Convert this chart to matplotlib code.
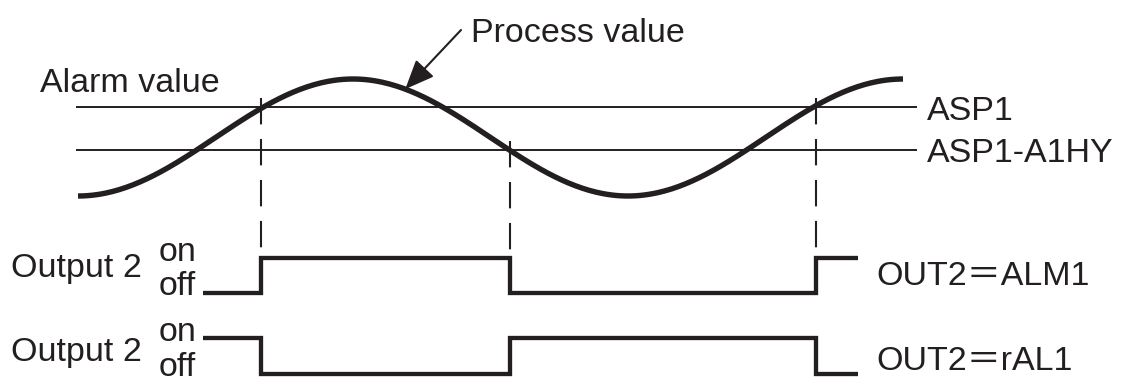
import numpy as np
import matplotlib
matplotlib.use("Agg")
import matplotlib.pyplot as plt

plt.rcParams['font.family'] = ['Liberation Sans', 'Noto Sans CJK JP', 'DejaVu Sans']
plt.rcParams['lines.scale_dashes'] = False

# Process value (one and a half periods, starting at a trough)
pv_time = np.linspace(0, 30, 361)
pv_period = 20.0
pv_amp = 1.0
asp1 = 0.52
a1hy = 0.73

# switching instants and the two output patterns
switch_times = [6.65, 15.71, 26.84]
trace_start, trace_end = 4.55, 28.36
alm1_states = [0, 1, 0, 1]
ral1_states = [1, 0, 1, 0]
arrow_time = 11.9

INK = '#231f20'
W, H = 1123, 378
FS = 24.5


def t_px(px):
    return (px - 78) / 27.5


def v_px(py):
    return (137.5 - py) / 58.5


def pv(t):
    return -pv_amp * np.cos(2 * np.pi * np.asarray(t) / pv_period)


fig = plt.figure(figsize=(W / 100, H / 100), dpi=100)
ax = fig.add_axes([0, 0, 1, 1])
ax.set_xlim(t_px(0), t_px(W))
ax.set_ylim(v_px(H), v_px(0))
ax.axis('off')

# threshold lines
ax.hlines([asp1, asp1 - a1hy], t_px(76), t_px(917), color=INK, lw=1.4)

# process value curve
ax.plot(pv_time, pv(pv_time), color=INK, lw=3.9, solid_capstyle='butt')

# dashed markers at the switching points
thr = [asp1, asp1 - a1hy, asp1]
for t, th in zip(switch_times, thr):
    ax.plot([t, t], [th + 9 / 58.5, v_px(250)], color=INK, lw=1.5,
            linestyle=(0, (19, 10.5)))

ax.annotate('', xy=(arrow_time, pv(arrow_time)), xytext=(t_px(461), v_px(30)),
            arrowprops=dict(arrowstyle='-|>,head_length=0.9,head_width=0.38',
                            mutation_scale=20, color=INK, lw=1.5,
                            shrinkA=0, shrinkB=0))


def trace_axes(off_py, on_py):
    a = fig.add_axes([0, 0, 1, 1])
    a.patch.set_alpha(0)
    step = off_py - on_py
    a.set_xlim(t_px(0), t_px(W))
    a.set_ylim(-(H - off_py) / step, off_py / step)
    a.axis('off')
    return a


edges = [trace_start] + switch_times + [trace_end]
for (off_py, on_py), states in [((293, 258), alm1_states), ((374, 338), ral1_states)]:
    a = trace_axes(off_py, on_py)
    a.step(edges, states + [states[-1]], where='post', color=INK, lw=3.1,
           solid_joinstyle='miter', solid_capstyle='butt')


def label(px, py, s, **kw):
    fig.text(px / W, 1 - py / H, s, va='baseline', ha='left', color=INK,
             fontsize=FS, **kw)


label(40, 92.5, 'Alarm value')
label(471, 42, 'Process value')
label(927, 120, 'ASP1')
label(927, 162, 'ASP1-A1HY')
label(11, 277, 'Output 2')
label(11, 361, 'Output 2')
label(159, 261, 'on')
label(159, 295, 'off')
label(159, 341, 'on')
label(159, 376, 'off')
label(876, 285, 'OUT2＝ALM1')
label(876, 370, 'OUT2＝rAL1')

fig.savefig('out.png', dpi=100, facecolor='white')
